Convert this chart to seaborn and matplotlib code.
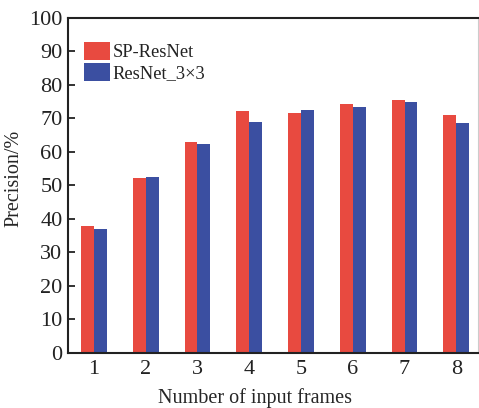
import matplotlib
matplotlib.use("Agg")
import matplotlib.pyplot as plt
import seaborn as sns
import pandas as pd

frames = ["1", "2", "3", "4", "5", "6", "7", "8"]
sp_resnet = [37.8, 52.2, 63.1, 72.1, 71.5, 74.4, 75.6, 71.0]
resnet_3x3 = [36.9, 52.5, 62.5, 68.9, 72.4, 73.3, 74.8, 68.7]
series_names = ["SP-ResNet", "ResNet_3×3"]
colors = ["#E84A40", "#3B4FA1"]

df = pd.DataFrame({
    "frames": frames * 2,
    "precision": sp_resnet + resnet_3x3,
    "model": [series_names[0]] * len(frames) + [series_names[1]] * len(frames),
})

sns.set_theme(style="ticks")
plt.rcParams["font.family"] = ["Liberation Serif", "DejaVu Serif"]

fig = plt.figure(figsize=(4.79, 4.08), dpi=100)
ax = fig.add_axes([0.142, 0.135, 0.856, 0.821])

sns.barplot(data=df, x="frames", y="precision", hue="model", order=frames,
            hue_order=series_names, palette=colors, width=0.5, saturation=1,
            ax=ax, errorbar=None)

for p in ax.patches:
    p.set_edgecolor("none")

ax.set_xlim(-0.5, 7.42)
ax.set_ylim(0, 100)
ax.set_yticks(range(0, 101, 10))
ax.set_xlabel("Number of input frames", fontsize=14.5)
ax.set_ylabel("Precision/%", fontsize=14.5)
ax.xaxis.set_label_coords(0.456, -0.105)
ax.yaxis.set_label_coords(-0.108, 0.521)
ax.tick_params(axis="both", direction="in", length=5, width=1.3, labelsize=16,
               colors="#222222", pad=4)
ax.tick_params(axis="x", pad=5)
for s in ["left", "bottom", "top"]:
    ax.spines[s].set_linewidth(1.5)
    ax.spines[s].set_color("#222222")
ax.spines["right"].set_linewidth(0.8)
ax.spines["right"].set_color("#cccccc")

leg = ax.legend(loc="upper left", frameon=False, fontsize=13.3,
                handlelength=1.4, handleheight=1.15, labelspacing=0.08,
                handletextpad=0.15, borderaxespad=0, borderpad=0,
                bbox_to_anchor=(0.039, 0.928))
for t in leg.get_texts():
    t.set_color("#222222")

fig.savefig("out.png", dpi=100)
